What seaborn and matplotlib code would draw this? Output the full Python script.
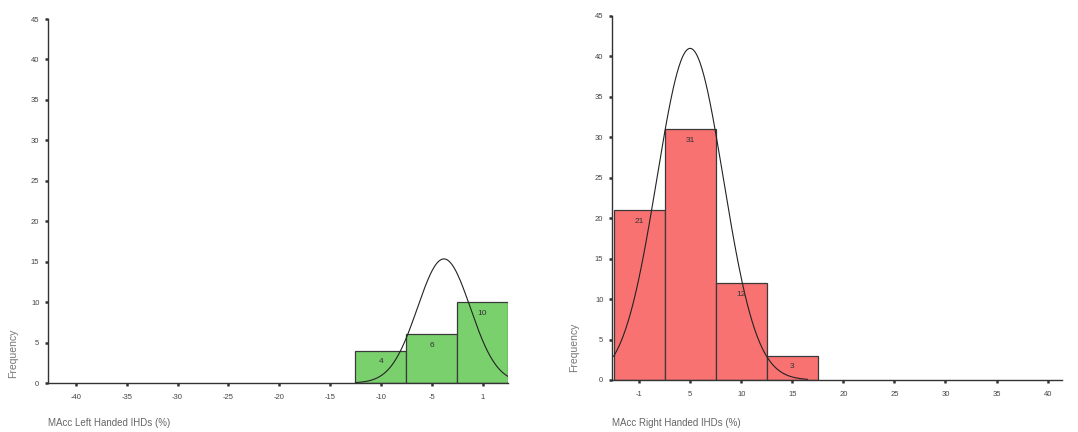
import numpy as np
import pandas as pd
import matplotlib
matplotlib.use("Agg")
import matplotlib.pyplot as plt
import seaborn as sns

# ---- data ----
left_centers = [-10, -5, 0]
left_counts = [4, 6, 10]
left_tick_labels = ["-40", "-35", "-30", "-25", "-20", "-15", "-10", "-5", "1"]
left_mean, left_sd, left_n = -3.8, 2.6, 20

right_centers = [0, 5, 10, 15]
right_counts = [21, 31, 12, 3]
right_tick_labels = ["-1", "5", "10", "15", "20", "25", "30", "35", "40"]
right_mean, right_sd, right_n = 5.0, 3.26, 67

y_ticks = [0, 5, 10, 15, 20, 25, 30, 35, 40, 45]
left_xlabel = "MAcc Left Handed IHDs (%)"
right_xlabel = "MAcc Right Handed IHDs (%)"

sns.set_theme(style="white")
plt.rcParams["font.family"] = ["Liberation Sans", "DejaVu Sans"]

fig = plt.figure(figsize=(10.78, 4.32), dpi=100)
ax_l = fig.add_axes([0.0445, 0.1134, 0.4267, 0.8426])
ax_r = fig.add_axes([0.5677, 0.1204, 0.4174, 0.8426])

BW = 5


def panel(ax, centers, counts, color, tick_pos, tick_labels, xlim, mean, sd, n,
          curve_range, xlabel, ylab_xy, xlab_y):
    df = pd.DataFrame({"x": centers, "count": counts})
    lo = min(centers) - BW / 2
    hi = max(centers) + BW / 2
    sns.histplot(data=df, x="x", weights="count", binwidth=BW, binrange=(lo, hi),
                 ax=ax, color=color, alpha=1, edgecolor="#3a3a3a", linewidth=0.9)
    # fitted normal curve
    xs = np.linspace(curve_range[0], curve_range[1], 300)
    ys = n * BW / (sd * np.sqrt(2 * np.pi)) * np.exp(-0.5 * ((xs - mean) / sd) ** 2)
    sns.lineplot(x=xs, y=ys, ax=ax, color="#222222", linewidth=0.8)
    # count labels
    for c, v in zip(centers, counts):
        ax.annotate(str(v), (c, v), xytext=(0, -8), textcoords="offset points",
                    ha="center", va="center", fontsize=6, color="#333333")
    ax.set_xlim(*xlim)
    ax.set_ylim(0, 45)
    ax.set_xticks(tick_pos)
    ax.set_xticklabels(tick_labels)
    ax.set_yticks(y_ticks)
    ax.tick_params(axis="both", direction="out", length=2.2, width=1.8,
                   color="#333333", labelsize=5.5, labelcolor="#444444",
                   bottom=True, left=True)
    ax.tick_params(axis="x", pad=6)
    ax.tick_params(axis="y", pad=4)
    for s in ["top", "right"]:
        ax.spines[s].set_visible(False)
    for s in ["left", "bottom"]:
        ax.spines[s].set_color("#333333")
        ax.spines[s].set_linewidth(1.0)
    ax.set_ylabel("Frequency", fontsize=7.5, color="#777777")
    ax.yaxis.set_label_coords(*ylab_xy)
    ax.set_xlabel(xlabel, fontsize=7, color="#666666", loc="left")
    ax.xaxis.set_label_coords(0, xlab_y)
    ax.set_facecolor("white")


panel(ax_l, left_centers, left_counts, "#7bd06e", np.arange(-40, 1, 5),
      left_tick_labels, (-42.75, 2.5), left_mean, left_sd, left_n,
      (-12.5, 2.5), left_xlabel, (-0.065, 0.082), -0.096)
panel(ax_r, right_centers, right_counts, "#f87272", np.arange(0, 41, 5),
      right_tick_labels, (-2.65, 41.4), right_mean, right_sd, right_n,
      (-2.5, 16.5), right_xlabel, (-0.073, 0.09), -0.105)

fig.savefig("out.png", dpi=100, facecolor="white")
